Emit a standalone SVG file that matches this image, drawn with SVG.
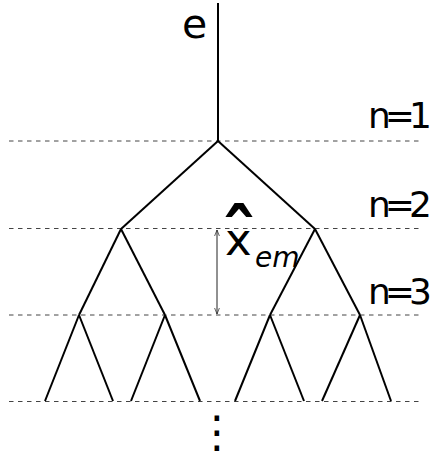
<svg xmlns="http://www.w3.org/2000/svg" width="430" height="452" viewBox="0 0 430 452">
<defs>
<style>
.lvl{stroke:#444;stroke-width:1;stroke-dasharray:4.5 4.5;fill:none}
.edge{stroke:#000;stroke-width:2;fill:none}
.lbl{font-family:"DejaVu Sans",sans-serif;fill:#000}
</style>
<marker id="ah" viewBox="0 0 10 10" refX="10" refY="5" markerWidth="6" markerHeight="10" orient="auto-start-reverse" markerUnits="userSpaceOnUse">
<path d="M0,1 L10,5 L0,9" fill="none" stroke="#222" stroke-width="1.2"/>
</marker>
</defs>
<rect width="430" height="452" fill="#fff"/>
<g id="levels">
<line class="lvl" x1="9" y1="141" x2="422" y2="141"/>
<line class="lvl" x1="9" y1="228.5" x2="422" y2="228.5"/>
<line class="lvl" x1="9" y1="315" x2="422" y2="315"/>
<line class="lvl" x1="9" y1="401.5" x2="422" y2="401.5"/>
</g>
<g id="connectors">
<line class="edge" x1="218" y1="3" x2="218" y2="141"/>
<line class="edge" x1="218" y1="141" x2="121" y2="229"/>
<line class="edge" x1="218" y1="141" x2="315" y2="229"/>
<line class="edge" x1="121" y1="229" x2="79" y2="315"/>
<line class="edge" x1="121" y1="229" x2="165" y2="315"/>
<line class="edge" x1="315" y1="229" x2="270" y2="315"/>
<line class="edge" x1="315" y1="229" x2="360" y2="315"/>
<line class="edge" x1="79" y1="315" x2="45" y2="401"/>
<line class="edge" x1="79" y1="315" x2="113" y2="401"/>
<line class="edge" x1="165" y1="315" x2="131" y2="401"/>
<line class="edge" x1="165" y1="315" x2="200" y2="401"/>
<line class="edge" x1="270" y1="315" x2="235" y2="401"/>
<line class="edge" x1="270" y1="315" x2="304" y2="401"/>
<line class="edge" x1="360" y1="315" x2="322" y2="401"/>
<line class="edge" x1="360" y1="315" x2="391" y2="401"/>
<line x1="217" y1="230" x2="217" y2="314" stroke="#222" stroke-width="1" marker-start="url(#ah)" marker-end="url(#ah)"/>
</g>
<g id="labels">
<text class="lbl" x="182" y="38" font-size="41">e</text>
<text class="lbl" x="368" y="128" font-size="36" letter-spacing="-6">n=1</text>
<text class="lbl" x="368" y="217" font-size="36" letter-spacing="-6">n=2</text>
<text class="lbl" x="368" y="304" font-size="36" letter-spacing="-6">n=3</text>
<text class="lbl" x="225" y="255" font-size="45">x<tspan x="239" y="263" font-size="74" text-anchor="middle" font-weight="bold">ˆ</tspan><tspan x="255" y="267" font-size="28" font-style="italic" text-anchor="start">em</tspan></text>
<text class="lbl" x="195" y="447" font-size="44">⋮</text>
</g>
</svg>
